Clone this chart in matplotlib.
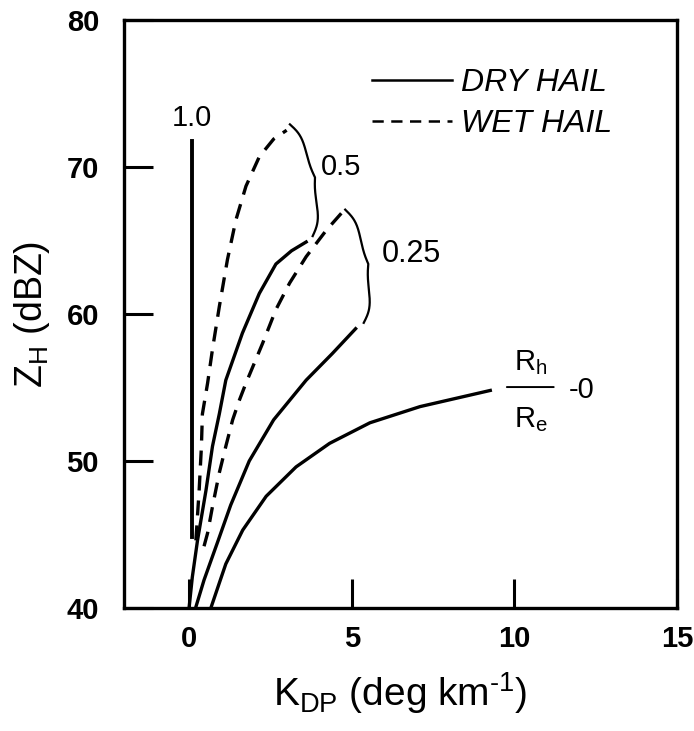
import numpy as np
import matplotlib.pyplot as plt

plt.rcParams['font.family'] = ['Liberation Sans', 'DejaVu Sans']
plt.rcParams['mathtext.fontset'] = 'custom'
plt.rcParams['mathtext.rm'] = 'Liberation Sans'
plt.rcParams['mathtext.it'] = 'Liberation Sans:italic'

# K_DP (deg/km) vs Z_H (dBZ)
dry_10_x = [0.1, 0.1]
dry_10_y = [44.8, 71.8]

dry_05_x = [0.0, 0.1, 0.26, 0.52, 0.72, 0.93, 1.13, 1.64, 2.16, 2.67, 3.15, 3.6]
dry_05_y = [40.0, 42.1, 44.6, 48.0, 51.0, 53.2, 55.5, 58.7, 61.4, 63.4, 64.3, 64.9]

wet_05_x = [0.21, 0.31, 0.38, 0.41, 0.57, 0.72, 0.93, 1.18, 1.44, 1.75, 2.16, 2.6, 3.0]
wet_05_y = [44.6, 48.0, 51.0, 53.2, 55.3, 57.6, 60.5, 63.7, 66.4, 68.7, 70.7, 71.9, 72.5]

wet_025_x = [0.46, 0.57, 0.72, 0.93, 1.13, 1.34, 1.54, 1.75, 2.26, 2.67, 3.09, 3.6, 4.22, 4.7]
wet_025_y = [44.2, 45.1, 46.9, 49.2, 51.0, 52.8, 54.1, 55.3, 58.0, 60.3, 62.1, 63.9, 65.7, 66.9]

dry_025_x = [0.2, 0.46, 0.88, 1.28, 1.85, 2.6, 3.6, 4.4, 5.12]
dry_025_y = [40.0, 41.9, 44.5, 47.0, 50.0, 52.8, 55.5, 57.3, 59.0]

dry_0_x = [0.67, 0.93, 1.13, 1.65, 2.37, 3.29, 4.32, 5.56, 7.1, 9.26]
dry_0_y = [40.0, 41.7, 43.0, 45.3, 47.6, 49.6, 51.2, 52.6, 53.7, 54.8]

x_ticks = [0, 5, 10, 15]
y_ticks = [40, 50, 60, 70, 80]

fig = plt.figure(figsize=(6.94, 7.31), dpi=100)
ax = fig.add_axes([124 / 694, 1 - 608 / 731, 553 / 694, 588 / 731])
ax.set_xlim(-2, 15)
ax.set_ylim(40, 80)

lw = 2.4
dash = (0, (4.5, 3.0))
ax.plot(dry_10_x, dry_10_y, color='black', lw=lw + 0.4)
ax.plot(dry_05_x, dry_05_y, color='black', lw=lw, label='DRY HAIL')
ax.plot(dry_025_x, dry_025_y, color='black', lw=lw)
ax.plot(dry_0_x, dry_0_y, color='black', lw=lw)
ax.plot(wet_05_x, wet_05_y, color='black', lw=lw, linestyle=dash, label='WET HAIL')
ax.plot(wet_025_x, wet_025_y, color='black', lw=lw, linestyle=dash)

# curly braces between wet/dry end points
sx = 553 / 17.0   # px per x unit
sy = 588 / 40.0   # px per y unit


def brace(p1, p2, w=14, sh=0.75, b=0.14):
    x1, y1 = p1[0] * sx, p1[1] * sy
    x2, y2 = p2[0] * sx, p2[1] * sy
    L = np.hypot(x2 - x1, y2 - y1)
    dx, dy = (x2 - x1) / L, (y2 - y1) / L
    nx, ny = -dy, dx
    s = np.linspace(0, L / 2, 100)
    sig = lambda v: 1 / (1 + np.exp(-b * v))
    off = sh * (2 * sig(s) - 1) + (1 - sh) * 2 * sig(s - L / 2)
    s_full = np.concatenate([s, L - s[::-1]])
    off_full = np.concatenate([off, off[::-1]]) * w
    px = x1 + dx * s_full + nx * off_full
    py = y1 + dy * s_full + ny * off_full
    ax.plot(px / sx, py / sy, color='black', lw=1.6)


brace((wet_05_x[-1] + 0.1, wet_05_y[-1] + 0.4), (dry_05_x[-1] + 0.2, dry_05_y[-1] + 0.4))
brace((wet_025_x[-1] + 0.1, wet_025_y[-1] + 0.2), (dry_025_x[-1] + 0.25, dry_025_y[-1] + 0.4))

txt = 21
ax.text(0.1, 73.3, '1.0', fontsize=txt, ha='center', va='center')
ax.text(4.06, 70.0, '0.5', fontsize=txt, ha='left', va='center')
ax.text(5.92, 64.1, '0.25', fontsize=22, ha='left', va='center')
ax.text(10.5, 56.2, r'$\mathregular{R_h}$', fontsize=txt, ha='center', va='baseline')
ax.text(10.5, 53.8, r'$\mathregular{R_e}$', fontsize=txt, ha='center', va='top')
ax.annotate('', xy=(9.77, 55.03), xytext=(11.21, 55.03),
            arrowprops=dict(arrowstyle='-', lw=1.4, color='black', shrinkA=0, shrinkB=0))
ax.text(11.67, 54.8, '-0', fontsize=txt, ha='left', va='center')

leg = ax.legend(loc='upper left', bbox_to_anchor=(0.448, 0.918), frameon=False,
                prop={'style': 'italic', 'size': 23}, handlelength=2.5,
                handletextpad=0.3, borderpad=0, borderaxespad=0, labelspacing=0.35)
for h in leg.get_lines():
    h.set_linewidth(1.8)

ax.set_xticks(x_ticks)
ax.set_yticks(y_ticks)
ax.tick_params(direction='in', length=21, width=2.2, labelsize=21, pad=12)
ax.tick_params(axis='y', pad=18)
for lab in ax.get_xticklabels() + ax.get_yticklabels():
    lab.set_fontweight('bold')
for sp in ax.spines.values():
    sp.set_linewidth(2.4)

ax.set_xlabel('$\\mathregular{K_{DP}}$ (deg km$^{\\mathregular{\u20101}}$)', fontsize=28)
ax.set_ylabel(r'$\mathregular{Z_H}$ (dBZ)', fontsize=27)
ax.xaxis.set_label_coords(0.5, -0.105)
ax.yaxis.set_label_coords(-0.13, 0.5)

fig.savefig('out.png', dpi=100)
